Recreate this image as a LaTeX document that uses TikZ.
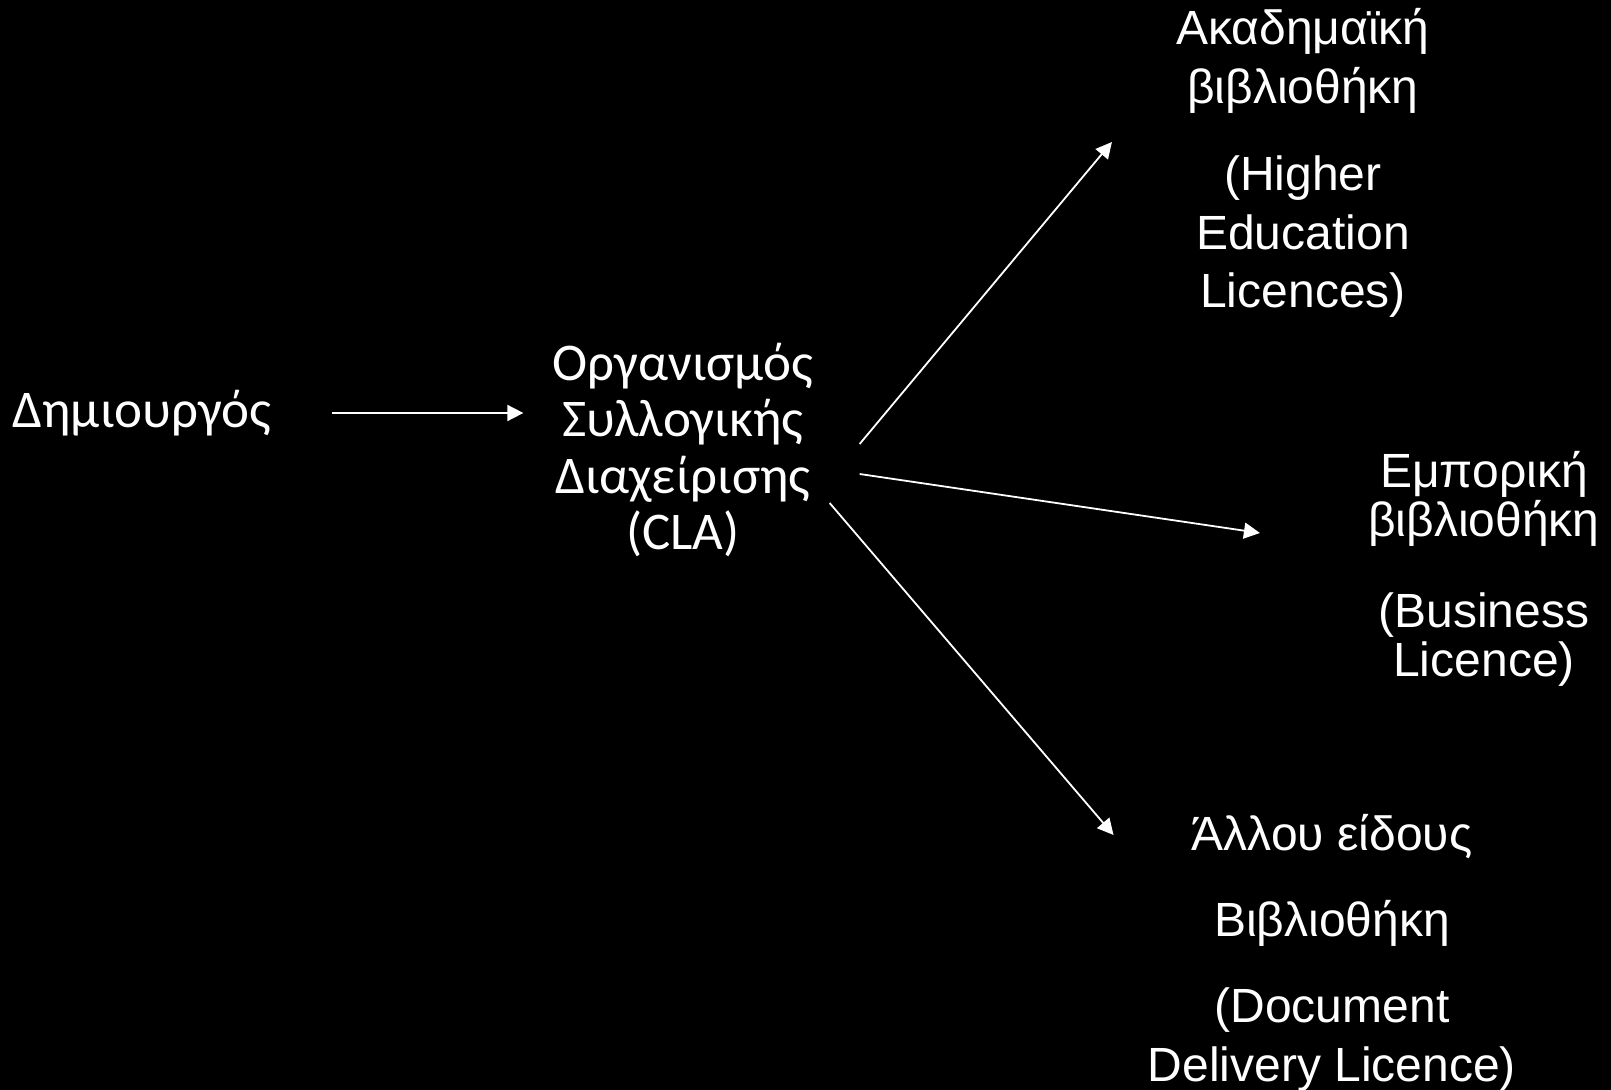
\documentclass[tikz,border=0pt]{standalone}
\usepackage{fontspec}
\setmainfont{Liberation Sans}
\newfontfamily\calfont{Carlito}
\usetikzlibrary{arrows.meta, calc}

\begin{document}
\begin{tikzpicture}[x=0.5pt, y=-0.5pt,
  blocktext/.style={text=white, align=center, inner sep=0pt},
  arr/.style={-{Triangle[length=8pt,width=8pt]}, white, line width=0.9pt}]
\fill[black] (0,0) rectangle (1611,1090);
\useasboundingbox (0,0) rectangle (1611,1090);

% left side
\node[blocktext, font=\calfont\fontsize{26.5}{28.3}\selectfont] (creator) at (142,413) {Δημιουργός};
\node[blocktext, font=\calfont\fontsize{26.5}{28.3}\selectfont] (org) at (683,450) {Οργανισμός\\Συλλογικής\\Διαχείρισης\\(CLA)};

% libraries
\node[blocktext, font=\fontsize{24}{29.2}\selectfont] (acad) at (1303,163) {Ακαδημαϊκή\\βιβλιοθήκη\\[14.5pt](Higher\\Education\\Licences)};
\node[blocktext, font=\fontsize{24}{24.5}\selectfont] (bus) at (1484,569) {Εμπορική\\βιβλιοθήκη\\[21pt](Business\\Licence)};
\node[blocktext, font=\fontsize{24}{29.5}\selectfont] (other) at (1332,953) {Άλλου είδους\\[13.5pt]Βιβλιοθήκη\\[13.5pt](Document\\Delivery Licence)};

\draw[arr, shorten <=30pt, shorten >=14.5pt] (creator.east) -- (creator.east -| org.west);
\draw[arr] ($(org.east)+(46,-6)$) -- ($(acad.west)+(-64,-21)$);
\draw[arr] ($(org.east)+(46,24)$) -- ($(bus.west)+(-108,-36)$);
\draw[arr] ($(org.east)+(16,53)$) -- ($(other.west)+(-34,-118)$);
\end{tikzpicture}
\end{document}
